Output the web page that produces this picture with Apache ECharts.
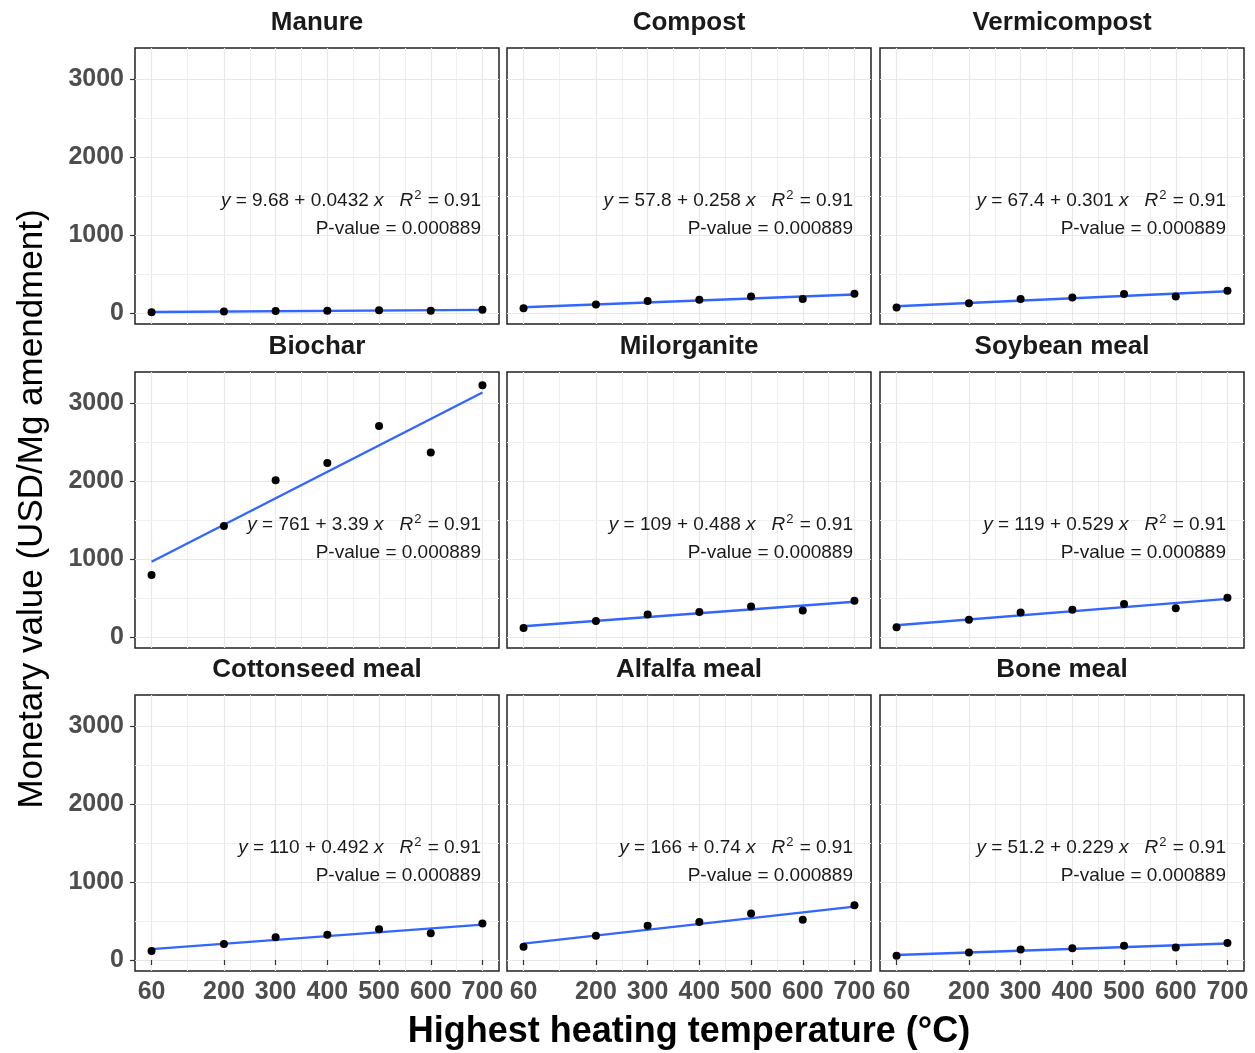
<!DOCTYPE html>
<html>
<head>
<meta charset="utf-8">
<script src="https://cdn.jsdelivr.net/npm/echarts@6/dist/echarts.min.js"></script>
<style>
  html, body { margin: 0; padding: 0; background: #fff; }
  #main { width: 1255px; height: 1053px; }
</style>
</head>
<body>
<div id="main"></div>
<script>
// facet names, same order as drawn (row by row)
var panelNames = ['Manure', 'Compost', 'Vermicompost', 'Biochar', 'Milorganite',
  'Soybean meal', 'Cottonseed meal', 'Alfalfa meal', 'Bone meal'];

// highest heating temperature (x) and x tick labels
var temps = [60, 200, 300, 400, 500, 600, 700];
var xMinor = [130, 250, 350, 450, 550, 650];
var yTicks = [0, 1000, 2000, 3000];
var yMinor = [500, 1500, 2500];

// monetary value per panel (USD/Mg amendment)
var manure = [10, 18, 26, 28, 34, 30, 41];
var compost = [60, 108, 153, 170, 210, 180, 247];
var vermicompost = [71, 126, 178, 198, 242, 210, 286];
var biochar = [795, 1423, 2010, 2229, 2704, 2365, 3226];
var milorganite = [114, 205, 289, 321, 392, 341, 465];
var soybean = [124, 222, 314, 348, 424, 369, 503];
var cottonseed = [115, 206, 291, 323, 394, 343, 468];
var alfalfa = [170, 310, 438, 486, 596, 516, 703];
var bonemeal = [54, 96, 136, 151, 183, 160, 218];
var values = [manure, compost, vermicompost, biochar, milorganite, soybean, cottonseed, alfalfa, bonemeal];

// fitted line ends at 60 and 700 degC
var fitEnds = [[12, 40], [73, 238], [86, 278], [964, 3134], [138, 451],
  [151, 489], [139, 454], [210, 684], [65, 212]];

// equation labels
var intercepts = ['9.68', '57.8', '67.4', '761', '109', '119', '110', '166', '51.2'];
var slopes = ['0.0432', '0.258', '0.301', '3.39', '0.488', '0.529', '0.492', '0.74', '0.229'];
var r2 = '0.91';
var pValue = '0.000889';

var font = '"Liberation Sans", Arial, sans-serif';
var colLeft = [135, 507, 880];
var rowTop = [48, 372, 695];
var panelW = 364;
var panelH = 276;

var chart = echarts.init(document.getElementById('main'), null, { renderer: 'canvas' });

var grids = [], xAxes = [], yAxes = [], series = [], graphics = [];

panelNames.forEach(function (name, i) {
  var r = Math.floor(i / 3), c = i % 3;
  var left = colLeft[c], top = rowTop[r];

  grids.push({
    left: left, top: top, width: panelW, height: panelH,
    show: true, borderColor: '#222222', borderWidth: 1.5, backgroundColor: '#fff'
  });

  xAxes.push({
    gridIndex: i, type: 'value', min: 28, max: 732,
    axisLine: { show: false },
    splitLine: { show: false },
    axisTick: { show: r === 2, length: 5, customValues: temps, lineStyle: { color: '#333333', width: 1.2 } },
    axisLabel: {
      show: r === 2, customValues: temps, margin: 9,
      fontFamily: font, fontSize: 25, fontWeight: 'bold', color: '#4d4d4d'
    }
  });

  yAxes.push({
    gridIndex: i, type: 'value', min: -141, max: 3397,
    axisLine: { show: false },
    splitLine: { show: false },
    axisTick: { show: c === 0, length: 5, customValues: yTicks, lineStyle: { color: '#333333', width: 1.2 } },
    axisLabel: {
      show: c === 0, customValues: yTicks, margin: 11,
      formatter: function (v) { return String(v); },
      fontFamily: font, fontSize: 25, fontWeight: 'bold', color: '#4d4d4d'
    }
  });

  // background grid lines
  var lines = [];
  temps.forEach(function (v) { lines.push({ xAxis: v, lineStyle: { color: '#e8e8e8', width: 1.2, type: 'solid' } }); });
  xMinor.forEach(function (v) { lines.push({ xAxis: v, lineStyle: { color: '#f0f0f0', width: 1, type: 'solid' } }); });
  yTicks.forEach(function (v) { lines.push({ yAxis: v, lineStyle: { color: '#e8e8e8', width: 1.2, type: 'solid' } }); });
  yMinor.forEach(function (v) { lines.push({ yAxis: v, lineStyle: { color: '#f0f0f0', width: 1, type: 'solid' } }); });
  series.push({
    type: 'line', xAxisIndex: i, yAxisIndex: i, data: [], z: 0, silent: true,
    markLine: { z: 0, silent: true, symbol: ['none', 'none'], label: { show: false }, animation: false, data: lines }
  });

  series.push({
    type: 'line', xAxisIndex: i, yAxisIndex: i, z: 6,
    data: [[temps[0], fitEnds[i][0]], [temps[temps.length - 1], fitEnds[i][1]]],
    showSymbol: false, silent: true,
    lineStyle: { color: '#3366FF', width: 2.4 }
  });

  series.push({
    type: 'scatter', xAxisIndex: i, yAxisIndex: i, z: 7,
    data: temps.map(function (t, k) { return [t, values[i][k]]; }),
    symbolSize: 8, itemStyle: { color: '#000', opacity: 1 }
  });

  // facet strip title
  graphics.push({
    type: 'text', x: left + panelW / 2, y: top - 25, z: 100,
    style: { text: name, fontFamily: font, fontSize: 26, fontWeight: 'bold', fill: '#1a1a1a', textAlign: 'center', textVerticalAlign: 'middle' }
  });

  // regression equation
  graphics.push({
    type: 'text', x: left + panelW - 18, y: top + 153, z: 100,
    style: {
      text: '{i|y} = ' + intercepts[i] + ' + ' + slopes[i] + ' {i|x}   {i|R}{s|2} = ' + r2,
      fontFamily: font, fontSize: 19, fill: '#1a1a1a', textAlign: 'right', textVerticalAlign: 'middle',
      rich: {
        i: { fontFamily: font, fontSize: 19, fontStyle: 'italic', fill: '#1a1a1a' },
        s: { fontFamily: font, fontSize: 13, fill: '#1a1a1a', padding: [0, 1, 11, 1] }
      }
    }
  });
  graphics.push({
    type: 'text', x: left + panelW - 18, y: top + 181, z: 100,
    style: { text: 'P-value = ' + pValue, fontFamily: font, fontSize: 19, fill: '#1a1a1a', textAlign: 'right', textVerticalAlign: 'middle' }
  });
});

// axis titles
graphics.push({
  type: 'text', x: 32, y: 509, rotation: Math.PI / 2, z: 100,
  style: { text: 'Monetary value (USD/Mg amendment)', fontFamily: font, fontSize: 35, fill: '#000', textAlign: 'center', textVerticalAlign: 'middle' }
});
graphics.push({
  type: 'text', x: 689, y: 1032, z: 100,
  style: { text: 'Highest heating temperature (°C)', fontFamily: font, fontSize: 36, fontWeight: 'bold', fill: '#000', textAlign: 'center', textVerticalAlign: 'middle' }
});

chart.setOption({
  backgroundColor: '#ffffff',
  animation: false,
  grid: grids,
  xAxis: xAxes,
  yAxis: yAxes,
  series: series,
  graphic: graphics
});
</script>
</body>
</html>
